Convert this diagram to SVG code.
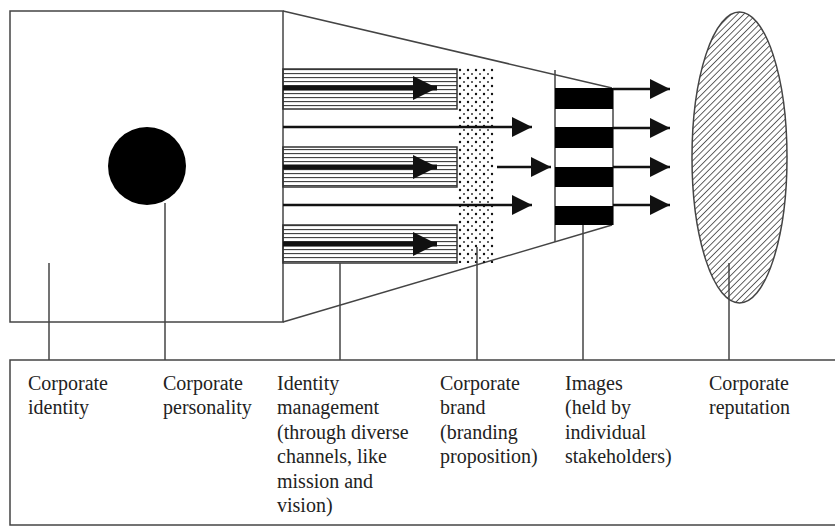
<svg xmlns="http://www.w3.org/2000/svg" width="835" height="527" viewBox="0 0 835 527">
  <defs>
    <pattern id="stripes" patternUnits="userSpaceOnUse" x="0" y="69" width="8" height="4">
      <line x1="0" y1="0.5" x2="8" y2="0.5" stroke="#444" stroke-width="1.3"/>
    </pattern>
    <pattern id="dots" patternUnits="userSpaceOnUse" x="458" y="68" width="8" height="8">
      <circle cx="2" cy="2" r="1.2" fill="#111"/>
      <circle cx="6" cy="6" r="1" fill="#333"/>
    </pattern>
    <pattern id="hatch" patternUnits="userSpaceOnUse" width="4.5" height="4.5" patternTransform="rotate(45)">
      <line x1="0" y1="0" x2="0" y2="4.5" stroke="#222" stroke-width="1.4"/>
    </pattern>
    <marker id="ah" viewBox="0 0 20 20" refX="20" refY="10" markerUnits="userSpaceOnUse" markerWidth="20" markerHeight="20" orient="auto">
      <path d="M0,0 L20,10 L0,20 Z" fill="#111"/>
    </marker>
    <marker id="ahBig" viewBox="0 0 24 24" refX="24" refY="12" markerUnits="userSpaceOnUse" markerWidth="24" markerHeight="24" orient="auto">
      <path d="M0,0 L24,12 L0,24 Z" fill="#111"/>
    </marker>
  </defs>
  <style>
    .frame { fill: #fff; stroke: #444; stroke-width: 1.5; }
    .thin { stroke: #444; stroke-width: 1.5; fill: none; }
    .lead { stroke: #444; stroke-width: 1.5; fill: none; }
    .arr { stroke: #111; stroke-width: 2.5; fill: none; marker-end: url(#ah); }
    .thick { stroke: #111; stroke-width: 5; fill: none; marker-end: url(#ahBig); }
    .lbl { font-family: "Liberation Serif", "Times New Roman", serif; font-size: 20px; fill: #222; }
  </style>
  <rect width="835" height="527" fill="#fff"/>

  <g id="identity-square">
    <rect class="frame" x="10" y="11" width="273" height="311"/>
  </g>

  <g id="funnel">
    <polyline class="thin" points="283,11 612,88"/>
    <polyline class="thin" points="283,322 612,225"/>
  </g>

  <g id="personality">
    <circle cx="147" cy="166" r="39" fill="#000"/>
  </g>

  <g id="identity-management">
    <rect x="283" y="69" width="174" height="40" fill="url(#stripes)" stroke="#333" stroke-width="1.5"/>
    <rect x="283" y="147" width="174" height="40" fill="url(#stripes)" stroke="#333" stroke-width="1.5"/>
    <rect x="283" y="225" width="174" height="38" fill="url(#stripes)" stroke="#333" stroke-width="1.5"/>
  </g>

  <g id="corporate-brand">
    <rect x="458" y="68" width="37" height="195" fill="url(#dots)"/>
  </g>

  <g id="images">
    <line class="thin" x1="555" y1="70" x2="555" y2="242"/>
    <line class="thin" x1="613" y1="88" x2="613" y2="225"/>
    <rect x="555" y="88" width="58" height="21" fill="#000"/>
    <rect x="555" y="127" width="58" height="21" fill="#000"/>
    <rect x="555" y="167" width="58" height="20" fill="#000"/>
    <rect x="555" y="206" width="58" height="19" fill="#000"/>
  </g>

  <g id="reputation">
    <ellipse cx="739.5" cy="157.5" rx="47.5" ry="145.5" fill="url(#hatch)" stroke="#444" stroke-width="1.5"/>
  </g>

  <g id="label-box">
    <rect class="frame" x="10" y="360" width="835" height="165"/>
  </g>

  <g id="connectors">
    <line class="thick" x1="283" y1="88" x2="437" y2="88"/>
    <line class="thick" x1="283" y1="167" x2="437" y2="167"/>
    <line class="thick" x1="283" y1="244" x2="437" y2="244"/>
    <line class="arr" x1="283" y1="127" x2="532" y2="127"/>
    <line class="arr" x1="283" y1="205" x2="532" y2="205"/>
    <line class="arr" x1="497" y1="167" x2="551" y2="167"/>
    <line class="arr" x1="613" y1="89" x2="670" y2="89"/>
    <line class="arr" x1="613" y1="128" x2="670" y2="128"/>
    <line class="arr" x1="613" y1="167" x2="670" y2="167"/>
    <line class="arr" x1="613" y1="205" x2="670" y2="205"/>
    <line class="lead" x1="49" y1="263" x2="49" y2="360"/>
    <line class="lead" x1="165" y1="203" x2="165" y2="360"/>
    <line class="lead" x1="340" y1="263" x2="340" y2="360"/>
    <line class="lead" x1="477" y1="247" x2="477" y2="360"/>
    <line class="lead" x1="583" y1="225" x2="583" y2="360"/>
    <line class="lead" x1="729" y1="263" x2="729" y2="360"/>
  </g>

  <g id="labels" class="lbl">
    <text x="28" y="390">Corporate</text>
    <text x="28" y="414.4">identity</text>
    <text x="163" y="390">Corporate</text>
    <text x="163" y="414.4">personality</text>
    <text x="277" y="390">Identity</text>
    <text x="277" y="414.4">management</text>
    <text x="277" y="438.8">(through diverse</text>
    <text x="277" y="463.2">channels, like</text>
    <text x="277" y="487.6">mission and</text>
    <text x="277" y="512">vision)</text>
    <text x="440" y="390">Corporate</text>
    <text x="440" y="414.4">brand</text>
    <text x="440" y="438.8">(branding</text>
    <text x="440" y="463.2">proposition)</text>
    <text x="565" y="390">Images</text>
    <text x="565" y="414.4">(held by</text>
    <text x="565" y="438.8">individual</text>
    <text x="565" y="463.2">stakeholders)</text>
    <text x="709" y="390">Corporate</text>
    <text x="709" y="414.4">reputation</text>
  </g>
</svg>
